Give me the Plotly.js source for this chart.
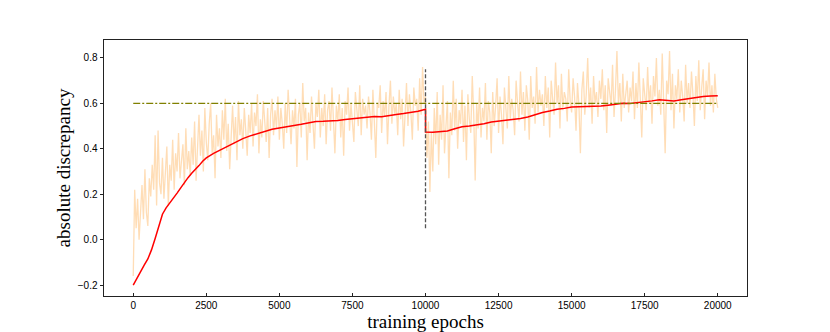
<!DOCTYPE html>
<html>
<head>
<meta charset="utf-8">
<script src="https://cdn.plot.ly/plotly-3.0.1.min.js"></script>
<style>html,body{margin:0;padding:0;background:#fff;}#chart{width:830px;height:332px;}</style>
</head>
<body>
<div id="chart"></div>
<script>
// ---- data ----
const noisyStep = 50; // epochs between noisy samples
const noisyValues = [
 -0.16,0.22,0.05,0.18,0.00,0.14,0.24,0.09,0.31,0.12,0.06,0.27,0.19,0.33,0.22,0.46,0.15,0.48,0.25,0.20,
 0.36,0.18,0.29,0.41,0.15,0.33,0.26,0.44,0.22,0.38,0.30,0.47,0.27,0.35,0.42,0.24,0.49,0.31,0.39,0.28,
 0.45,0.33,0.52,0.26,0.40,0.55,0.37,0.48,0.30,0.58,0.43,0.35,0.51,0.60,0.38,0.46,0.27,0.55,0.41,0.49,
 0.36,0.57,0.44,0.62,0.39,0.51,0.31,0.48,0.59,0.42,0.54,0.35,0.61,0.46,0.53,0.40,0.58,0.48,0.37,0.55,
 0.47,0.60,0.41,0.56,0.50,0.64,0.38,0.53,0.45,0.61,0.52,0.43,0.58,0.36,0.55,0.62,0.46,0.57,0.49,0.63,
 0.44,0.58,0.51,0.40,0.60,0.47,0.66,0.53,0.42,0.57,0.49,0.62,0.32,0.55,0.60,0.45,0.69,0.52,0.58,0.35,
 0.56,0.47,0.63,0.51,0.40,0.60,0.54,0.66,0.45,0.58,0.50,0.64,0.42,0.57,0.61,0.48,0.67,0.53,0.38,0.59,
 0.52,0.64,0.45,0.58,0.37,0.61,0.55,0.67,0.48,0.60,0.53,0.43,0.65,0.57,0.50,0.68,0.46,0.62,0.55,0.59,
 0.49,0.63,0.56,0.44,0.66,0.52,0.36,0.60,0.58,0.68,0.47,0.61,0.54,0.65,0.42,0.59,0.70,0.51,0.63,0.55,
 0.60,0.46,0.66,0.53,0.62,0.41,0.58,0.69,0.50,0.64,0.56,0.44,0.67,0.59,0.62,0.48,0.71,0.55,0.76,0.60,
 0.63,0.36,0.52,0.21,0.47,0.30,0.58,0.42,0.65,0.33,0.55,0.44,0.68,0.38,0.50,0.61,0.27,0.56,0.46,0.70,
 0.48,0.62,0.40,0.57,0.51,0.66,0.43,0.59,0.35,0.64,0.53,0.47,0.72,0.55,0.26,0.60,0.49,0.67,0.45,0.58,
 0.52,0.69,0.44,0.61,0.56,0.38,0.65,0.50,0.59,0.71,0.47,0.63,0.55,0.42,0.67,0.58,0.49,0.72,0.53,0.62,
 0.57,0.46,0.70,0.60,0.52,0.74,0.55,0.65,0.48,0.68,0.61,0.44,0.72,0.58,0.63,0.51,0.76,0.56,0.66,0.59,
 0.64,0.50,0.72,0.58,0.67,0.45,0.70,0.62,0.55,0.78,0.60,0.68,0.49,0.73,0.57,0.65,0.62,0.52,0.75,0.61,
 0.56,0.71,0.63,0.48,0.69,0.59,0.38,0.66,0.74,0.55,0.64,0.80,0.58,0.67,0.51,0.72,0.60,0.65,0.54,0.70,
 0.62,0.75,0.57,0.68,0.47,0.71,0.63,0.59,0.77,0.54,0.66,0.83,0.60,0.69,0.52,0.73,0.58,0.65,0.70,0.56,
 0.67,0.61,0.74,0.53,0.69,0.58,0.78,0.62,0.45,0.71,0.64,0.57,0.76,0.60,0.68,0.51,0.72,0.63,0.80,0.59,
 0.66,0.55,0.82,0.61,0.38,0.70,0.64,0.83,0.57,0.73,0.49,0.68,0.62,0.75,0.56,0.70,0.63,0.52,0.77,0.60,
 0.69,0.58,0.74,0.64,0.50,0.72,0.61,0.79,0.57,0.67,0.75,0.53,0.70,0.63,0.78,0.59,0.68,0.56,0.73,0.62,
 0.58
];
const noisyEpochs = noisyValues.map((_, i) => i * noisyStep);

const smoothEpochs = [
 0,125,250,375,500,625,750,875,1000,1125,1250,1375,1500,1625,1750,1875,2000,2125,2250,2375,2500,2750,
 3000,3250,3500,3750,4000,4250,4500,4750,5000,5250,5500,5750,6000,6250,6500,6750,7000,7250,7500,7750,
 8000,8250,8500,8750,9000,9250,9500,9750,10000,
 10000,10250,10500,10750,11000,11250,11500,11750,12000,12250,12500,12750,13000,13250,13500,13750,14000,14250,14500,14750,
 15000,15250,15500,15750,16000,16250,16500,16750,17000,17250,17500,17750,18000,18250,18500,18750,19000,19250,19500,19750,20000
];
const smoothValues = [
 -0.200,-0.170,-0.138,-0.112,-0.085,-0.045,0.005,0.060,0.112,0.140,0.160,0.183,0.205,0.228,0.252,0.273,0.292,0.308,0.326,0.345,0.360,0.380,
 0.396,0.410,0.428,0.445,0.457,0.466,0.478,0.486,0.492,0.499,0.503,0.508,0.515,0.520,0.521,0.522,0.525,0.529,0.533,0.536,
 0.539,0.542,0.541,0.547,0.551,0.555,0.559,0.565,0.574,
 0.474,0.473,0.474,0.478,0.488,0.497,0.500,0.504,0.510,0.518,0.521,0.524,0.528,0.533,0.540,0.551,0.560,0.566,0.574,0.578,
 0.584,0.585,0.586,0.586,0.588,0.592,0.596,0.601,0.600,0.603,0.607,0.611,0.616,0.613,0.611,0.616,0.621,0.626,0.630,0.632,0.634
];

const targetLevel = 0.6;
const targetEpochs = [0, 20000];
const switchEpoch = 10000;
const switchSpan = [0.05, 0.75];

const xTicks = [0,2500,5000,7500,10000,12500,15000,17500,20000];
const xTickText = ['0','2500','5000','7500','10000','12500','15000','17500','20000'];
const yTicks = [-0.2,0.0,0.2,0.4,0.6,0.8];
const yTickText = ['\u22120.2','0.0','0.2','0.4','0.6','0.8'];

// ---- chart ----
const traces = [
 {x: noisyEpochs, y: noisyValues, type: 'scatter', mode: 'lines',
  line: {color: 'rgba(255,212,164,0.8)', width: 1.3}},
 {x: smoothEpochs, y: smoothValues, type: 'scatter', mode: 'lines',
  line: {color: '#ff0000', width: 1.5}},
 {x: targetEpochs, y: targetEpochs.map(() => targetLevel), type: 'scatter', mode: 'lines',
  line: {color: '#808000', width: 1.3, dash: '7px,2px,2px,2px'}},
 {x: switchSpan.map(() => switchEpoch), y: switchSpan, type: 'scatter', mode: 'lines',
  line: {color: '#555555', width: 1.3, dash: '4px,2px'}}
];

const axisCommon = {
 showgrid: false, zeroline: false, showline: true, mirror: true,
 linecolor: '#222', linewidth: 1, ticklen: 3.5, tickwidth: 1, tickcolor: '#222',
 tickfont: {family: 'Liberation Sans, Arial, sans-serif', size: 10, color: '#000'}
};

const layout = {
 width: 830, height: 332,
 margin: {l: 104, r: 83, t: 40, b: 36},
 paper_bgcolor: '#fff', plot_bgcolor: '#fff',
 showlegend: false,
 xaxis: Object.assign({}, axisCommon, {
  range: [-1000, 21000], tickvals: xTicks, ticktext: xTickText, ticks: 'inside',
  title: {text: 'training epochs', standoff: 6,
          font: {family: 'Liberation Serif, Times New Roman, serif', size: 19, color: '#000'}}
 }),
 yaxis: Object.assign({}, axisCommon, {
  range: [-0.248, 0.879], tickvals: yTicks, ticktext: yTickText, ticks: 'outside',
  title: {text: 'absolute discrepancy', standoff: 2,
          font: {family: 'Liberation Serif, Times New Roman, serif', size: 19, color: '#000'}}
 })
};

Plotly.newPlot('chart', traces, layout, {staticPlot: true, displayModeBar: false});
</script>
</body>
</html>
